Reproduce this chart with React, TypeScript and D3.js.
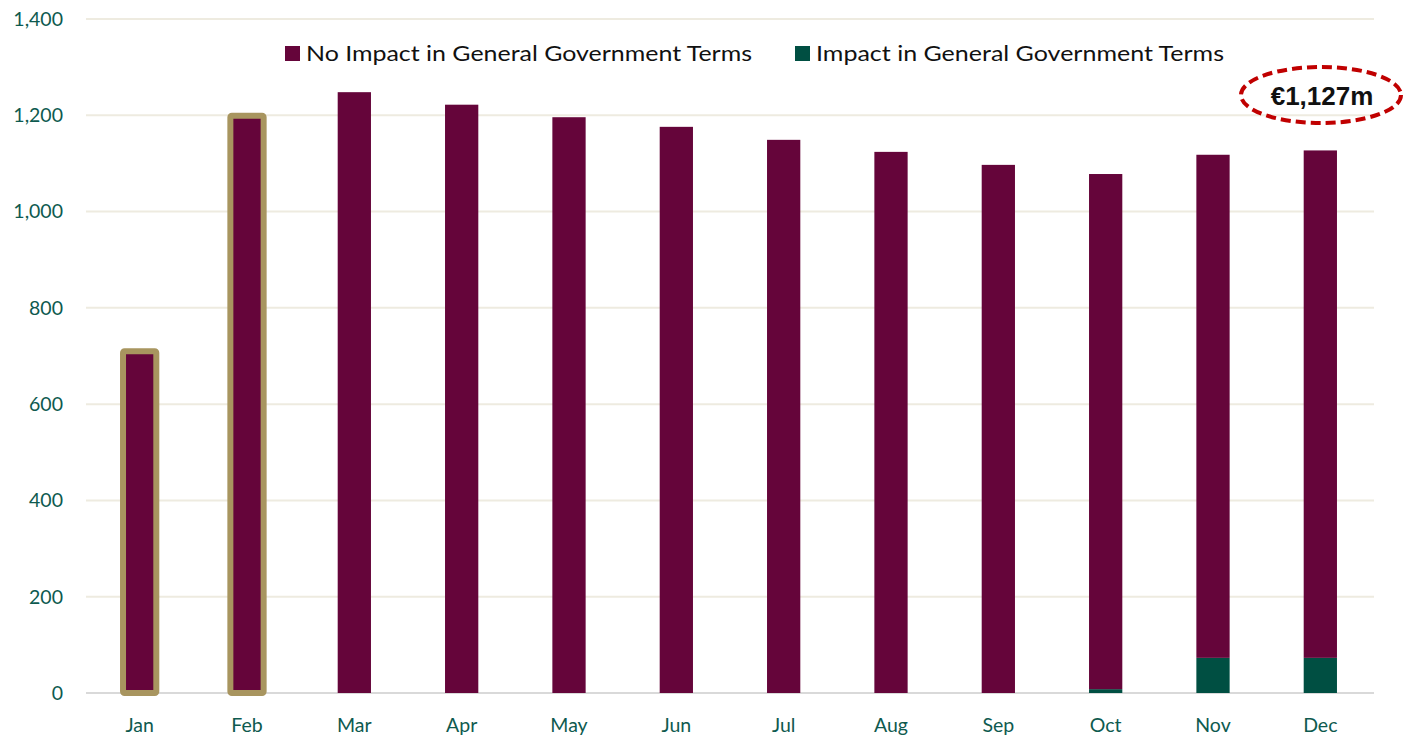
import React from "react";
import * as d3 from "d3";

const months = ["Jan", "Feb", "Mar", "Apr", "May", "Jun", "Jul", "Aug", "Sep", "Oct", "Nov", "Dec"];
const noImpact = [710, 1199, 1248, 1222, 1196, 1176, 1149, 1124, 1097, 1070, 1045, 1054];
const impact = [0, 0, 0, 0, 0, 0, 0, 0, 0, 8, 73, 73];
const highlighted = ["Jan", "Feb"];
const yTicks = [0, 200, 400, 600, 800, 1000, 1200, 1400];
const seriesNames = ["No Impact in General Government Terms", "Impact in General Government Terms"];
const annotation = "€1,127m";

const W = 1416, H = 738;
const M = { left: 86, right: 42, top: 19, bottom: 45 };

export default function App() {
  const x = d3.scaleBand<string>().domain(months).range([M.left, W - M.right]).paddingInner(0.69).paddingOuter(0.345);
  const y = d3.scaleLinear().domain([0, 1400]).range([H - M.bottom, M.top]);
  const teal = "#0e5a4f";
  const purple = "#65053a";
  const green = "#004f42";
  const gold = "#a8955f";
  const font = "Lato, 'Open Sans', sans-serif";
  return (
    <svg width={W} height={H} style={{ position: "absolute", left: 0, top: 0 }}>
      <rect width={W} height={H} fill="#fff" />
      {yTicks.map((t) => (
        <g key={t}>
          <line x1={M.left} x2={W - M.right} y1={y(t)} y2={y(t)} stroke={t === 0 ? "#d9d9d9" : "#eeebe0"} strokeWidth={2} />
          <text x={63} y={y(t)} dy="0.35em" textAnchor="end" fill={teal} fontFamily={font} fontSize={19.5}>
            {d3.format(",")(t)}
          </text>
        </g>
      ))}
      {months.map((m, i) => {
        const bx = x(m)!;
        const bw = x.bandwidth();
        const total = noImpact[i] + impact[i];
        return (
          <g key={m}>
            <rect x={bx} y={y(impact[i])} width={bw} height={y(0) - y(impact[i])} fill={green} />
            <rect x={bx} y={y(total)} width={bw} height={y(impact[i]) - y(total)} fill={purple} />
            {highlighted.includes(m) && (
              <rect x={bx} y={y(total)} width={bw} height={y(0) - y(total)} fill="none" stroke={gold} strokeWidth={6} rx={1.5} />
            )}
            <text x={bx + bw / 2} y={725} dy="0.35em" textAnchor="middle" fill={teal} fontFamily={font} fontSize={19.5}>
              {m}
            </text>
          </g>
        );
      })}
      <g fontFamily={font} fontSize={21} fill="#111">
        <rect x={285} y={46} width={15} height={15} fill={purple} />
        <text x={306} y={54} dy="0.35em" textLength={446} lengthAdjust="spacingAndGlyphs">{seriesNames[0]}</text>
        <rect x={795} y={46} width={15} height={15} fill={green} />
        <text x={816} y={54} dy="0.35em" textLength={408} lengthAdjust="spacingAndGlyphs">{seriesNames[1]}</text>
      </g>
      <ellipse cx={1321} cy={95} rx={80} ry={28} fill="none" stroke="#c00000" strokeWidth={4} strokeDasharray="10 5" />
      <text x={1322} y={96} dy="0.35em" textAnchor="middle" fontFamily="'Liberation Sans', Arial, sans-serif" fontWeight="bold" fontSize={26} fill="#111">
        {annotation}
      </text>
    </svg>
  );
}
